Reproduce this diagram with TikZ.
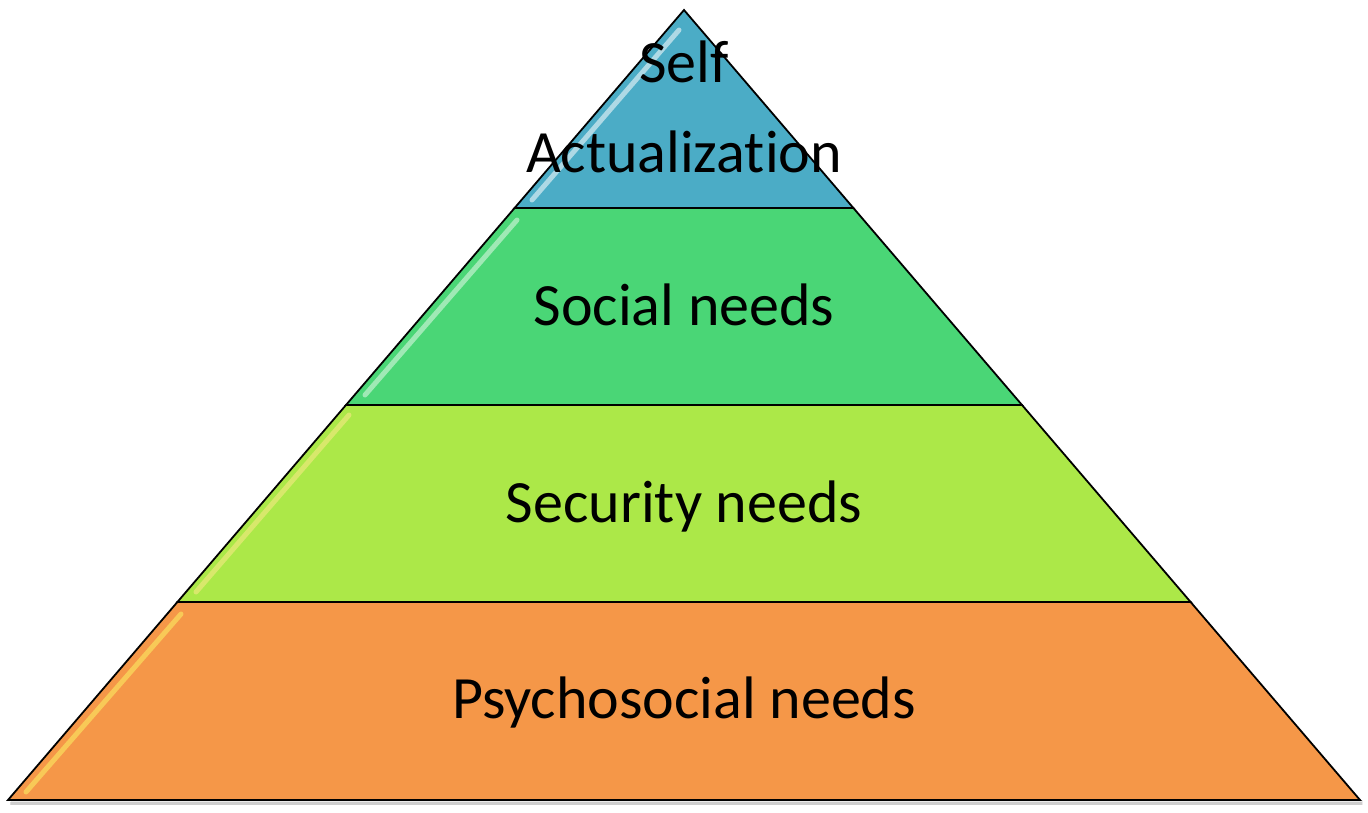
\documentclass[tikz,border=0pt]{standalone}
\usepackage{fontspec}
\setmainfont[Ligatures=NoCommon]{Carlito}
\definecolor{layerblue}{RGB}{75,172,198}
\definecolor{layergreen}{RGB}{74,214,118}
\definecolor{layerlime}{RGB}{172,232,72}
\definecolor{layerorange}{RGB}{245,151,72}
\begin{document}
\begin{tikzpicture}[x=1pt,y=-1pt,
  layer/.style={draw=black,line width=1.8pt,line join=miter},
  gloss/.style={line width=5pt,line cap=round,opacity=0.85},
  label/.style={font=\fontsize{60}{90}\selectfont,anchor=base,align=center,inner sep=0pt}]
\useasboundingbox (0,0) rectangle (1368,812);
% coordinates
\coordinate (apex) at (684,10);
\coordinate (l1) at (514.6,208); \coordinate (r1) at (853.4,208);
\coordinate (l2) at (346,405);   \coordinate (r2) at (1022,405);
\coordinate (l3) at (177.4,602); \coordinate (r3) at (1190.6,602);
\coordinate (l4) at (8,800);     \coordinate (r4) at (1360,800);
% shadow
\fill[black,opacity=0.08] ([shift={(3,5)}]l4) -- ([shift={(3,5)}]r4) -- ([shift={(3,0)}]r4) -- ([shift={(3,0)}]l4) -- cycle;
\draw[black!40,opacity=0.35,line width=3pt] ([shift={(2,3)}]l4) -- ([shift={(2,3)}]r4);
% layers
\fill[layerorange] (l3) -- (r3) -- (r4) -- (l4) -- cycle;
\fill[layerlime] (l2) -- (r2) -- (r3) -- (l3) -- cycle;
\fill[layergreen] (l1) -- (r1) -- (r2) -- (l2) -- cycle;
\fill[layerblue] (apex) -- (r1) -- (l1) -- cycle;
% gloss highlights
\draw[gloss,white!65!layerblue] (679,30) -- (532,200);
\draw[gloss,white!55!layergreen] (517,220) -- (365,395);
\draw[gloss,white!50!yellow!60!layerlime] (349,415) -- (196,592);
\draw[gloss,white!40!yellow!60!layerorange] (181,614) -- (26,792);
% outlines
\draw[layer] (apex) -- (r1) -- (l1) -- cycle;
\draw[layer] (l1) -- (r1) -- (r2) -- (l2) -- cycle;
\draw[layer] (l2) -- (r2) -- (r3) -- (l3) -- cycle;
\draw[layer] (l3) -- (r3) -- (r4) -- (l4) -- cycle;
% labels
\node[label] (selfact) at (684,172) {Self\\Actualization};
\node[label] (social) at (684,325) {Social needs};
\node[label] (security) at (684,522) {Security needs};
\node[label] (psycho) at (684,718) {Psychosocial needs};
\end{tikzpicture}
\end{document}
